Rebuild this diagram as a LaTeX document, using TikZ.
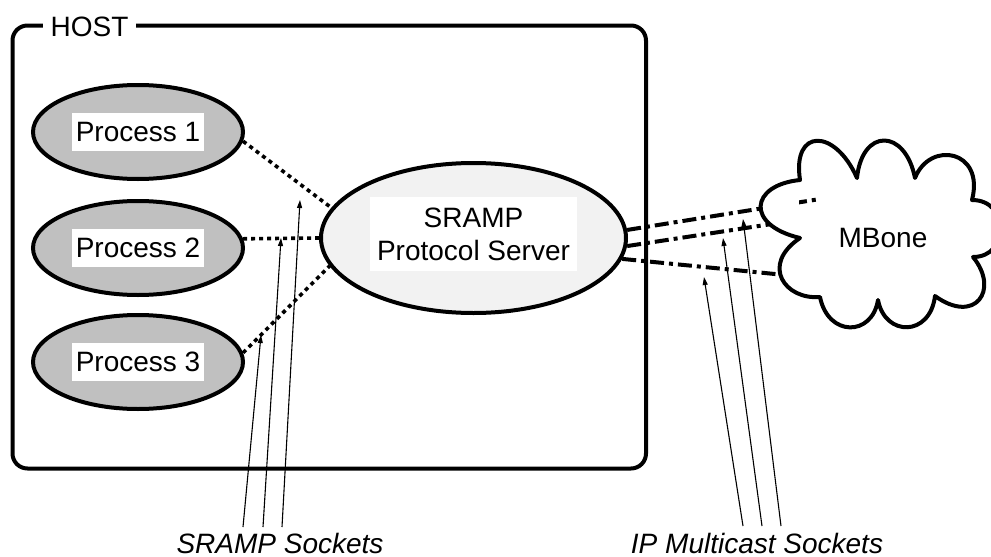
\documentclass[tikz,border=0pt]{standalone}
\usepackage{fontspec}
\setmainfont{Liberation Sans}
\usetikzlibrary{shapes.geometric,arrows.meta}

\definecolor{procgray}{HTML}{C0C0C0}
\definecolor{srvgray}{HTML}{F2F2F2}

\begin{document}
\begin{tikzpicture}[x=1pt,y=-1pt,
  txt/.style={font=\fontsize{28pt}{33pt}\selectfont},
  frame/.style={draw, line width=4pt, rectangle, rounded corners=15pt,
    minimum width=633.5pt, minimum height=443pt, inner sep=0pt},
  proc/.style={ellipse, draw, line width=4pt, fill=procgray,
    minimum width=210pt, minimum height=94pt, inner sep=0pt},
  server/.style={ellipse, draw, line width=4pt, fill=srvgray,
    minimum width=305pt, minimum height=150pt, inner sep=0pt},
  tag/.style={txt, fill=white, inner xsep=3.5pt, inner ysep=9.5pt},
  local/.style={line width=3.6pt, dash pattern=on 4pt off 4pt},
  mcast/.style={line width=4pt, dash pattern=on 14pt off 5pt on 4pt off 5pt},
  sock/.style={line width=1.1pt, -{Triangle[length=8pt,width=5pt]}},
  caption/.style={txt, font=\fontsize{28pt}{33pt}\selectfont\itshape, anchor=base}
]
\useasboundingbox (0,0) rectangle (991,557);

% host frame with its title
\node[frame] (host) at (329.25,247) {};
\node[txt, fill=white, inner xsep=7.5pt, inner ysep=1pt] (hostlbl) at (89.5,26.5) {HOST};

% processes and the protocol server
\node[proc] (p1) at (138,132) {};
\node[proc] (p2) at (138,248) {};
\node[proc] (p3) at (138,362) {};
\node[tag] (p1t) at (p1.center) {Process 1};
\node[tag] (p2t) at (p2.center) {Process 2};
\node[tag] (p3t) at (p3.center) {Process 3};

\node[server] (srv) at (473.5,238) {};
\node[txt, fill=white, align=center, inner xsep=7pt, inner ysep=10.5pt] (srvt) at (473.5,234)
  {SRAMP\\Protocol Server};

% local socket links
\draw[local] (p1.-5) -- (srv.168);
\draw[local] (p2.5) -- (srv.180);
\draw[local] (p3.5) -- (srv.191);

% multicast links into the cloud
\coordinate (mA) at (820,199);
\coordinate (mB) at (800,219.7);
\coordinate (mC) at (790,275.5);
\draw[mcast] (srv.3) -- (mA);
\draw[mcast] (srv.-3) -- (mB);
\draw[mcast] (srv.-8) -- (mC);

% MBone cloud
\draw[line width=4pt, fill=white, line join=round] (800,180)
  .. controls (792,128) and (835,128) .. (857,178)
  .. controls (862,128) and (905,128) .. (915,178)
  .. controls (930,140) and (985,150) .. (972,200)
  .. controls (1010,200) and (1010,257) .. (973,257)
  .. controls (1000,290) and (975,325) .. (935,296)
  .. controls (930,337) and (885,337) .. (878,300)
  .. controls (872,337) and (828,337) .. (820,297)
  .. controls (785,300) and (760,265) .. (800,238)
  .. controls (745,225) and (750,185) .. cycle;
\begin{scope}
  \clip (799,190) rectangle (830,210);
  \draw[mcast] (srv.3) -- (mA);
\end{scope}
\node[txt] (mbone) at (883,238) {MBone};

% socket pointers
\coordinate (sa1) at (243,527);
\coordinate (sa2) at (263,527);
\coordinate (sa3) at (282,527);
\coordinate (ta1) at (261,335);
\coordinate (ta2) at (281,238);
\coordinate (ta3) at (300,200);
\draw[sock] (sa1) -- (ta1);
\draw[sock] (sa2) -- (ta2);
\draw[sock] (sa3) -- (ta3);

\coordinate (ma1) at (743,526);
\coordinate (ma2) at (762,526);
\coordinate (ma3) at (781,526);
\coordinate (tm1) at (704,277);
\coordinate (tm2) at (723,238);
\coordinate (tm3) at (743,219);
\draw[sock] (ma1) -- (tm1);
\draw[sock] (ma2) -- (tm2);
\draw[sock] (ma3) -- (tm3);

% captions
\node[caption] (capl) at (280,553) {SRAMP Sockets};
\node[caption] (capr) at (757,553) {IP Multicast Sockets};
\end{tikzpicture}
\end{document}
